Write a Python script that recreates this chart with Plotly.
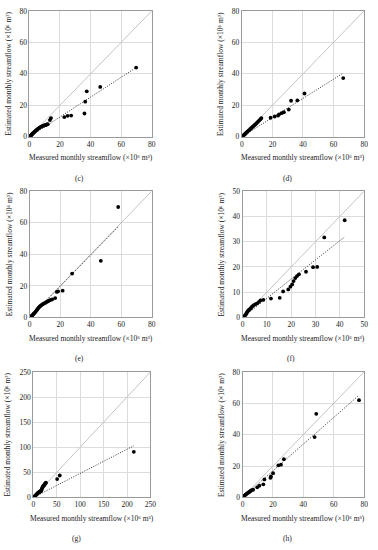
import plotly.graph_objects as go

# ---------------- data ----------------
labels = ["(c)", "(d)", "(e)", "(f)", "(g)", "(h)"]
axis_max = [80, 80, 80, 50, 250, 80]
axis_dtick = [20, 20, 20, 10, 50, 20]
trend_slope = [0.63, 0.61, 0.99, 0.76, 0.48, 0.85]

c_x = [0.2,0.4,0.6,0.8,1.0,1.2,1.5,1.8,2.1,2.4,2.8,3.2,3.6,4.0,4.5,5.0,5.5,6.0,6.6,7.2,7.8,8.4,9.0,9.6,10.2,10.8,11.4,12.0,13.4,14.1,22.8,25.0,27.3,36.0,36.5,37.5,46.3,69.8]
c_y = [0.1,0.3,0.5,0.7,0.9,1.1,1.4,1.7,2.0,2.3,2.7,3.0,3.4,3.8,4.2,4.6,5.0,5.4,5.8,6.2,6.5,6.8,7.0,7.2,7.4,7.6,7.8,8.0,10.6,11.9,12.5,13.3,13.5,14.8,22.3,28.9,31.7,44.0]

d_x = [0.3,0.6,1.0,1.4,1.8,2.2,2.7,3.2,3.7,4.2,4.8,5.4,6.0,6.6,7.2,7.8,8.4,9.0,9.8,10.6,11.4,12.2,12.8,18.8,21.5,23.7,24.3,26.0,27.5,30.7,32.2,36.3,41.0,66.3]
d_y = [0.2,0.5,0.8,1.2,1.5,1.9,2.4,2.8,3.3,3.8,4.3,4.8,5.3,5.9,6.4,7.0,7.5,8.0,8.8,9.6,10.4,11.2,11.9,12.1,12.9,13.5,14.2,15.0,15.6,17.3,22.9,23.1,27.5,37.3]

e_x = [0.2,0.5,0.8,1.2,1.6,2.0,2.5,3.0,3.5,4.0,4.5,5.0,5.5,6.0,6.5,7.0,7.6,8.3,9.0,9.8,10.6,11.4,12.2,13.0,13.9,14.8,16.7,17.8,18.6,21.6,27.8,46.6,58.0]
e_y = [0.1,0.3,0.6,0.9,1.3,1.7,2.2,2.7,3.3,3.9,4.5,5.2,5.8,6.4,6.9,7.3,7.8,8.3,8.7,9.1,9.5,10.0,10.4,10.9,11.2,11.5,12.3,16.2,16.6,17.0,27.8,35.9,70.0]

f_x = [0.5,0.8,1.1,1.4,1.7,2.0,2.3,2.6,3.0,3.4,3.8,4.3,4.8,5.4,6.0,6.8,7.4,8.6,11.7,15.3,16.7,18.8,19.7,20.4,21.0,21.7,22.4,23.2,26.1,29.0,30.7,33.6,42.0]
f_y = [0.2,0.5,0.9,1.3,1.8,2.3,2.7,3.0,3.3,3.7,4.2,4.6,5.0,5.3,5.6,6.2,6.8,7.0,7.5,7.8,10.3,11.1,12.2,13.1,14.4,15.6,16.4,17.1,18.1,19.9,20.0,31.7,38.5]

g_x = [0.5,1,2,3,4,5,6,7,8,9,10,11,12,13,14,15,16,17,18,19,20,21,22,23,24,25,26,27,50.8,56.4,214.4]
g_y = [0.3,0.8,1.6,2.5,3.4,4.3,5.3,6.3,7.3,8.3,9.1,9.8,10.4,11,11.5,12,13,14.5,17,19,21,22.5,23.5,24.5,26,27.5,28.5,29.5,36.6,43.8,90.8]

h_x = [0.3,0.7,1.1,1.5,2.0,2.5,3.0,3.6,4.2,4.8,5.5,6.2,7.0,9.7,11.1,13.7,14.4,18.4,18.7,20.1,23.6,25.3,27.2,47.4,48.5,76.6]
h_y = [0.2,0.6,1.0,1.4,1.8,2.2,2.6,3.0,3.4,3.8,4.3,4.7,5.0,6.5,7.5,8.4,11.5,12.5,13.4,15.5,20.5,20.9,24.4,38.5,53.3,62.0]

series_x = [c_x, d_x, e_x, f_x, g_x, h_x]
series_y = [c_y, d_y, e_y, f_y, g_y, h_y]

x_title = "Measured monthly streamflow (×10⁶ m³)"
y_title = "Estimated monthly streamflow (×10⁶ m³)"

# ---------------- layout (pixel boxes) ----------------
W, H = 378, 550
boxes = [  # left, right, top, bottom (px)
    (28, 153, 7, 135),
    (245, 370, 7, 135),
    (28.3, 153, 190.3, 318.7),
    (245.7, 370, 190.3, 318.7),
    (32, 151.7, 374, 501.7),
    (245.7, 370, 374, 501.7),
]
ytitle_x = [7, 224, 7, 224, 6, 224]
label_x = [79, 292, 79, 295, 76, 292]

FONT = "Liberation Serif"
fig = go.Figure()
layout = dict(
    width=W, height=H, margin=dict(l=0, r=0, t=0, b=0),
    paper_bgcolor="white", plot_bgcolor="white", showlegend=False,
    font=dict(family=FONT, size=7, color="#222"),
)
annotations = []

for i in range(6):
    l, r, t, b = boxes[i]
    ax = "" if i == 0 else str(i + 1)
    xa, ya = "x" + ax, "y" + ax
    m = axis_max[i]
    xs, ys = series_x[i], series_y[i]
    # 1:1 line
    fig.add_trace(go.Scatter(x=[0, m], y=[0, m], mode="lines",
                             line=dict(color="#c4c4c4", width=1),
                             xaxis=xa, yaxis=ya, hoverinfo="skip"))
    # trend line through origin
    xm = max(xs)
    fig.add_trace(go.Scatter(x=[0, xm], y=[0, trend_slope[i] * xm], mode="lines",
                             line=dict(color="#333", width=1, dash="1px,1.5px"),
                             xaxis=xa, yaxis=ya, hoverinfo="skip"))
    # points
    fig.add_trace(go.Scatter(x=xs, y=ys, mode="markers",
                             marker=dict(color="black", size=3.8),
                             xaxis=xa, yaxis=ya))
    axcommon = dict(range=[0, m], dtick=axis_dtick[i], showgrid=True,
                    gridcolor="#dcdcdc", gridwidth=1, zeroline=False,
                    showline=True, linecolor="#9a9a9a", linewidth=1, mirror=True,
                    ticks="", tickfont=dict(family=FONT, size=7.5, color="#222"))
    layout["xaxis" + ax] = dict(axcommon, domain=[l / W, r / W], anchor=ya)
    layout["yaxis" + ax] = dict(axcommon, domain=[1 - b / H, 1 - t / H], anchor=xa)

    cx = (l + r) / 2
    annotations.append(dict(text=x_title, x=cx / W, y=1 - (b + 21) / H,
                            xref="paper", yref="paper", showarrow=False,
                            xanchor="center", yanchor="middle",
                            font=dict(family=FONT, size=7.5, color="#222")))
    annotations.append(dict(text=y_title, x=ytitle_x[i] / W, y=1 - ((t + b) / 2) / H,
                            xref="paper", yref="paper", showarrow=False, textangle=-90,
                            xanchor="center", yanchor="middle",
                            font=dict(family=FONT, size=7.5, color="#222")))
    annotations.append(dict(text=labels[i], x=label_x[i] / W, y=1 - (b + 42) / H,
                            xref="paper", yref="paper", showarrow=False,
                            xanchor="center", yanchor="middle",
                            font=dict(family=FONT, size=7.5, color="#222")))

layout["annotations"] = annotations
fig.update_layout(**layout)
fig.write_html("out.html", config={"displayModeBar": False},
               post_script="document.body.style.margin='0px';document.body.style.overflow='hidden';")
